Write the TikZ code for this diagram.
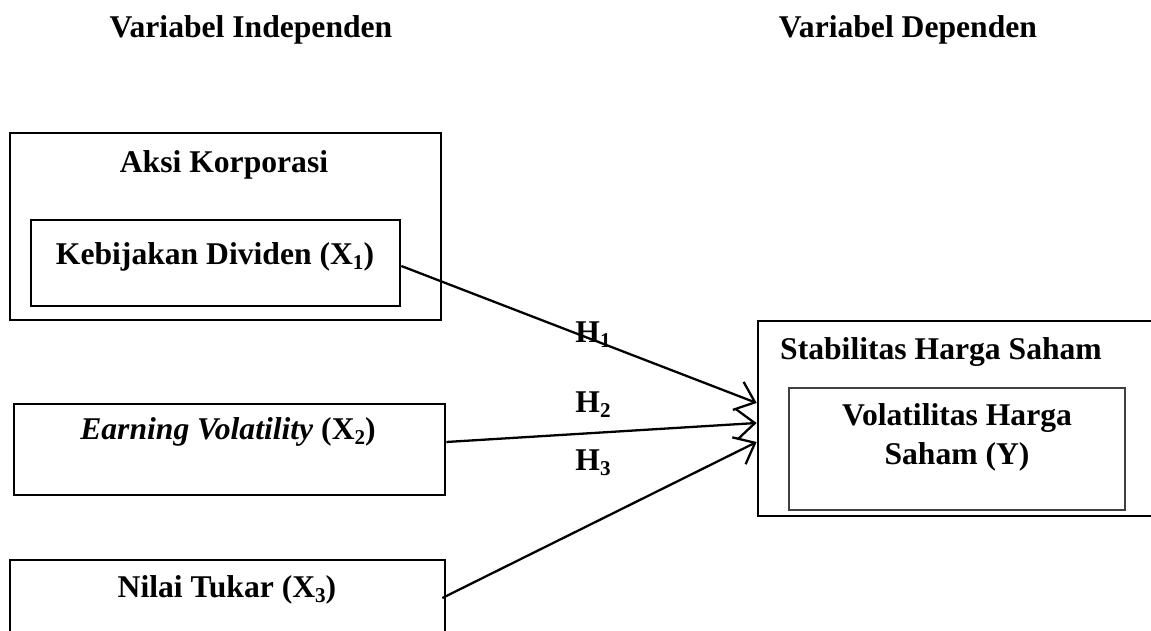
\documentclass[tikz,border=0pt]{standalone}
\usepackage{fontspec}
\setmainfont{Liberation Serif}
\usetikzlibrary{arrows.meta}
\newcommand{\idx}[1]{\raisebox{-0.35ex}{\fontsize{12}{12}\selectfont #1}}
\begin{document}
\begin{tikzpicture}[font=\fontsize{18}{22}\selectfont\bfseries]
	\tikzset{>={Straight Barb[length=3.6mm,width=6mm]}}
	\tikzset{box/.style={draw, line width=1.5pt, inner sep=0pt}}
	\tikzset{hyp/.style={->, line width=1.3pt}}
	\useasboundingbox (0,0) rectangle (23.02,12.62);
	\clip (0,0) rectangle (23.02,12.62);
	\node (indep) at (5.02,12.02) {Variabel Independen};
	\node (dep) at (18.16,12.02) {Variabel Dependen};
	\node [box, minimum width=8.62cm, minimum height=3.74cm] (aksi) at (4.51,8.09) {};
	\node (aksit) at (4.48,9.32) {Aksi Korporasi};
	\node [box, minimum width=7.38cm, minimum height=1.72cm] (x1) at (4.31,7.36) {};
	\node (x1t) at (4.30,7.48) {Kebijakan Dividen (X\idx{1})};
	\node [box, minimum width=8.62cm, minimum height=1.82cm] (x2) at (4.59,3.63) {};
	\node (x2t) at (4.56,3.98) {\textit{Earning Volatility} (X\idx{2})};
	\node [box, minimum width=8.70cm, minimum height=1.82cm] (x3) at (4.55,0.51) {};
	\node (x3t) at (4.54,0.82) {Nilai Tukar (X\idx{3})};
	\node [box, minimum width=8.14cm, minimum height=3.90cm] (stab) at (19.23,4.25) {};
	\node (stabt) at (18.82,5.58) {Stabilitas Harga Saham};
	\node [box, line width=0.7pt, draw=black!75, minimum width=6.72cm, minimum height=2.44cm] (y) at (19.14,3.64) {};
	\node [align=center] (yt) at (19.14,3.87) {Volatilitas Harga\\Saham (Y)};
	\coordinate (in1) at ([yshift=0.31cm]stab.west);
	\coordinate (in2) at ([yshift=-0.09cm]stab.west);
	\coordinate (in3) at ([yshift=-0.47cm]stab.west);
	\draw [hyp] ([yshift=-0.06cm]x1.east) -- (in1);
	\draw [hyp] ([yshift=0.15cm]x2.east) -- (in2);
	\draw [hyp] ([xshift=-0.08cm,yshift=0.15cm]x3.east) -- (in3);
	\node (h1) at (11.86,5.92) {H\idx{1}};
	\node (h2) at (11.86,4.52) {H\idx{2}};
	\node (h3) at (11.86,3.36) {H\idx{3}};
\end{tikzpicture}
\end{document}
